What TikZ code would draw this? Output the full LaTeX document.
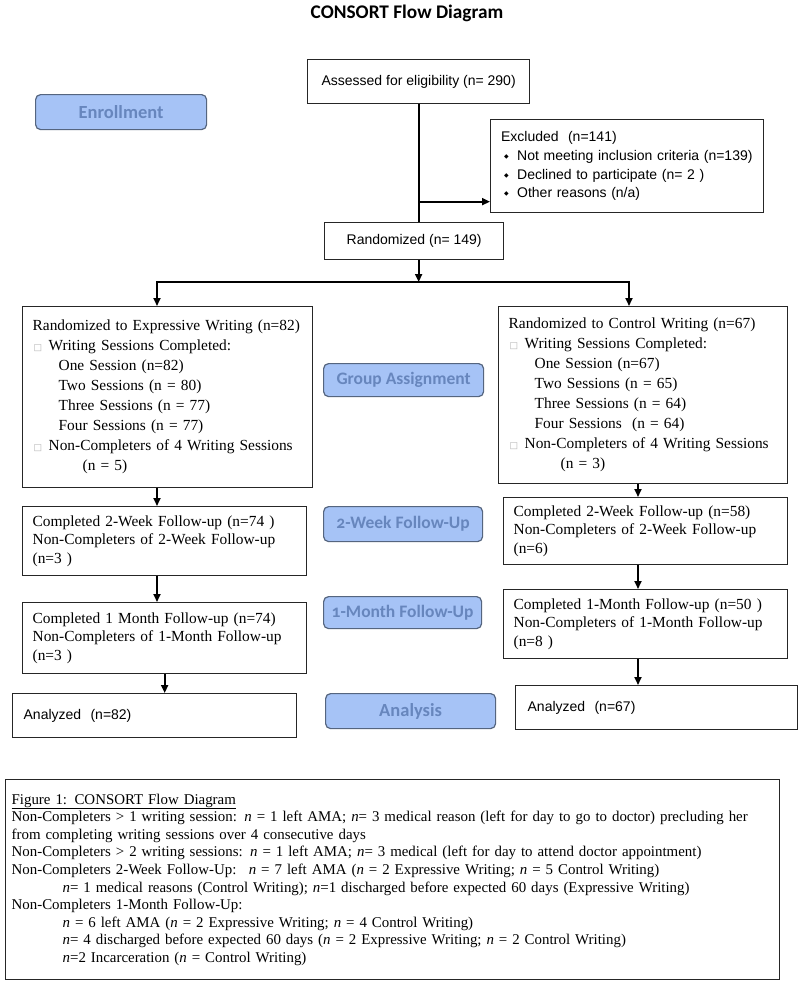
\documentclass[tikz,border=0pt]{standalone}
\usepackage{fontspec}
\setmainfont{Liberation Serif}
\newfontfamily\arialf{Liberation Sans}
\newfontfamily\calf[Numbers=OldStyle]{Carlito}
\newfontfamily\symf{DejaVu Sans}
\usetikzlibrary{arrows.meta,calc}
\definecolor{lblfill}{HTML}{A6C3F6}
\definecolor{lbltext}{HTML}{6786BD}
\definecolor{lbldraw}{HTML}{55657F}
\newcommand{\sqb}{\makebox[16pt][l]{\hspace{1pt}{\symf\fontsize{9}{9}\selectfont\textcolor{black!30}{□}}}}
\newcommand{\dbul}{\hspace*{3pt}\makebox[13pt][l]{\raisebox{2pt}{\symf\fontsize{6}{6}\selectfont ◆}}}
\begin{document}
\begin{tikzpicture}[x=1pt,y=-1pt,
  box/.style={draw=black!85, line width=1.3pt, fill=white, inner sep=0pt, anchor=north west},
  tnr/.style={font=\fontsize{15.4}{18.5}\selectfont, align=left, inner xsep=10pt},
  grpbox/.style={font=\fontsize{15.4}{20}\selectfont, align=left, inner xsep=10pt},
  sans/.style={font=\arialf\fontsize{14}{18.7}\selectfont},
  lbl/.style={draw=lbldraw, line width=1.2pt, fill=lblfill, rounded corners=5pt, text=lbltext,
    font=\calf\bfseries\fontsize{17.5}{18}\selectfont, anchor=north west, inner sep=0pt},
  ln/.style={line width=1.8pt},
  arr/.style={line width=1.8pt, -{Triangle[length=8pt,width=7pt]}}]
\fill[white] (0,0) rectangle (800,985);
\useasboundingbox (0,0) rectangle (800,985);

% title
\node[font=\calf\bfseries\fontsize{19.3}{21}\selectfont] (title) at (407,13) {CONSORT Flow Diagram};

% side labels
\node[lbl, minimum width=171pt, minimum height=35pt, font=\calf\bfseries\fontsize{18.5}{19}\selectfont] (enr) at (35,94) {Enrollment};
\node[lbl, minimum width=160pt, minimum height=33pt] (grp) at (323,363) {Group Assignment};
\node[lbl, minimum width=159pt, minimum height=35pt] (fw2) at (323,506) {2-Week Follow-Up};
\node[lbl, minimum width=158pt, minimum height=32pt] (fm1) at (323,596) {1-Month Follow-Up};
\node[lbl, minimum width=170pt, minimum height=35pt, font=\calf\bfseries\fontsize{18.5}{19}\selectfont] (ana) at (325,693) {Analysis};

% enrollment boxes
\node[box, sans, minimum width=222pt, minimum height=44pt] (ass) at (307,59) {Assessed for eligibility (n= 290)};
\node[box, sans, align=left, inner xsep=10.5pt, text width=252pt, minimum height=93pt] (exc) at (490,119)
  {\mbox{Excluded~~(n=141)}\\
   \mbox{\dbul Not meeting inclusion criteria (n=139)}\\
   \mbox{\dbul Declined to participate (n= 2 )}\\
   \mbox{\dbul Other reasons (n/a)}};
\node[box, sans, minimum width=179pt, minimum height=37pt] (rand) at (324,222) {Randomized (n= 149)};

% group boxes
\node[box, grpbox, text width=270pt, minimum height=181pt] (lg) at (22,306)
  {Randomized to Expressive Writing (n=82)\\
   \sqb Writing Sessions Completed:\\
   \hspace*{26pt}One Session (n=82)\\
   \hspace*{26pt}Two Sessions (n = 80)\\
   \hspace*{26pt}Three Sessions (n = 77)\\
   \hspace*{26pt}Four Sessions (n = 77)\\
   \sqb Non-Completers of 4 Writing Sessions\\
   \hspace*{50pt}(n = 5)};
\node[box, grpbox, text width=269pt, minimum height=177pt] (rg) at (498,306)
  {Randomized to Control Writing (n=67)\\
   \sqb Writing Sessions Completed:\\
   \hspace*{26pt}One Session (n=67)\\
   \hspace*{26pt}Two Sessions (n = 65)\\
   \hspace*{26pt}Three Sessions (n = 64)\\
   \hspace*{26pt}Four Sessions~ (n = 64)\\
   \sqb Non-Completers of 4 Writing Sessions\\
   \hspace*{52pt}(n = 3)};

% follow-up boxes
\node[box, tnr, text width=264pt, minimum height=69pt] (l2) at (22,506)
  {Completed 2-Week Follow-up (n=74 )\\Non-Completers of 2-Week Follow-up\\(n=3 )};
\node[box, tnr, text width=264pt, minimum height=71pt] (l1) at (22,602)
  {Completed 1 Month Follow-up (n=74)\\Non-Completers of 1-Month Follow-up\\(n=3 )};
\node[box, tnr, text width=264pt, minimum height=67pt] (r2) at (503,497)
  {Completed 2-Week Follow-up (n=58)\\Non-Completers of 2-Week Follow-up\\(n=6)};
\node[box, tnr, text width=264pt, minimum height=69pt] (r1) at (503,589)
  {Completed 1-Month Follow-up (n=50 )\\Non-Completers of 1-Month Follow-up\\(n=8 )};

% analyzed
\node[box, sans, align=left, inner xsep=11pt, text width=262pt, minimum height=44pt] (la) at (12,693) {Analyzed~~(n=82)};
\node[box, sans, align=left, inner xsep=12pt, text width=258pt, minimum height=44pt] (ra) at (515,685) {Analyzed~~(n=67)};

% caption
\node[box, align=left, inner xsep=6pt, text width=762pt, minimum height=200pt,
      font=\fontsize{14.9}{17.6}\selectfont] (cap) at (5,779)
  {\underline{Figure 1: CONSORT Flow Diagram}\\
   Non-Completers > 1 writing session: \textit{n} = 1 left AMA; \textit{n}= 3 medical reason (left for day to go to doctor) precluding her\\
   from completing writing sessions over 4 consecutive days\\
   Non-Completers > 2 writing sessions: \textit{n} = 1 left AMA; \textit{n}= 3 medical (left for day to attend doctor appointment)\\
   Non-Completers 2-Week Follow-Up:~ \textit{n} = 7 left AMA (\textit{n} = 2 Expressive Writing; \textit{n} = 5 Control Writing)\\
   \hspace*{51pt}\textit{n}= 1 medical reasons (Control Writing); \textit{n}=1 discharged before expected 60 days (Expressive Writing)\\
   Non-Completers 1-Month Follow-Up:\\
   \hspace*{51pt}\textit{n} = 6 left AMA (\textit{n} = 2 Expressive Writing; \textit{n} = 4 Control Writing)\\
   \hspace*{51pt}\textit{n}= 4 discharged before expected 60 days (\textit{n} = 2 Expressive Writing; \textit{n} = 2 Control Writing)\\
   \hspace*{51pt}\textit{n}=2 Incarceration (\textit{n} = Control Writing)};

% connectors
\coordinate (eb) at ([yshift=-35.5pt]exc.west);
\coordinate (sl) at (157,282);
\coordinate (sr) at (629,282);
\coordinate (rx) at (638,490);
\draw[ln] (ass.south) -- (ass.south |- rand.north);
\draw[arr] (ass.south |- eb) -- (eb);
\draw[arr] (rand.south -| ass.south) -- (ass.south |- sl);
\draw[ln, line cap=rect] (sl) -- (sr);
\draw[arr] (sl) -- (sl |- lg.north);
\draw[arr] (sr) -- (sr |- rg.north);
\draw[arr] (sl |- lg.south) -- (sl |- l2.north);
\draw[arr] (sl |- l2.south) -- (sl |- l1.north);
\draw[arr] (l1.south) -- (l1.south |- la.north);
\draw[arr] (rx |- rg.south) -- (rx |- r2.north);
\draw[arr] (rx |- r2.south) -- (rx |- r1.north);
\draw[arr] (rx |- r1.south) -- (rx |- ra.north);
\end{tikzpicture}
\end{document}
